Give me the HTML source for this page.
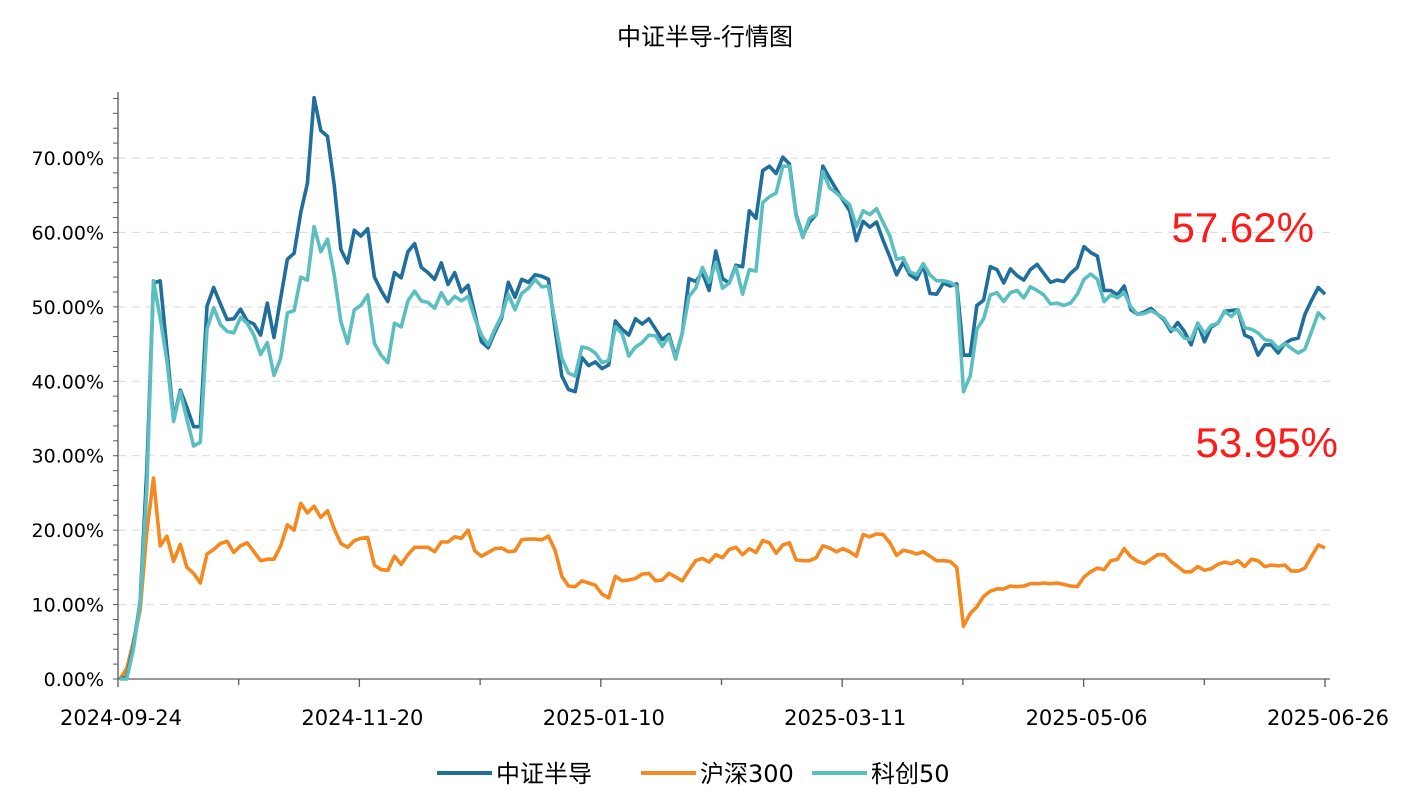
<!DOCTYPE html>
<html><head><meta charset="utf-8"><style>
html,body{margin:0;padding:0;background:#fff;}
svg{display:block;font-family:"Liberation Sans","Noto Sans CJK SC",sans-serif;}
</style></head><body>
<svg id="chart" width="1417" height="797" viewBox="0 0 1417 797">
<text x="705" y="45" text-anchor="middle" font-size="24" fill="#000">中证半导-行情图</text>
<g id="grid"></g>
<g id="yaxis"></g>
<g id="xaxis"></g>
<g id="series"></g>
<text x="1314" y="242" text-anchor="end" font-size="42" fill="#ff1a1a">57.62%</text>
<text x="1338" y="457" text-anchor="end" font-size="42" fill="#ff1a1a">53.95%</text>
<g>
<g><line x1="437" y1="773" x2="492" y2="773" stroke="#1f6e9c" stroke-width="4"/><text x="496" y="782" font-size="24">中证半导</text></g>
<g><line x1="641" y1="773" x2="696" y2="773" stroke="#f5891f" stroke-width="4"/><text x="700" y="782" font-size="24" font-family="DejaVu Sans, Noto Sans CJK SC, sans-serif">沪深300</text></g>
<g><line x1="812" y1="773" x2="867" y2="773" stroke="#5bbfc0" stroke-width="4"/><text x="871" y="782" font-size="24" font-family="DejaVu Sans, Noto Sans CJK SC, sans-serif">科创50</text></g>
</g>
</svg>
<script>
const xLabels = ["2024-09-24","2024-11-20","2025-01-10","2025-03-11","2025-05-06","2025-06-26"];
const yTicks = [0,10,20,30,40,50,60,70];
const semi = [0,0.3,4.5,10.3,28.1,53.2,53.5,44.3,34.9,38.8,36.5,33.9,33.9,50.1,52.6,50.4,48.3,48.4,49.7,48.1,47.7,46.2,50.5,45.9,51.2,56.4,57.2,62.7,66.6,78.1,73.7,72.9,66.4,57.7,55.9,60.3,59.5,60.5,54.0,52.2,50.7,54.6,53.9,57.4,58.5,55.3,
54.6,53.7,55.9,53.0,54.6,52.0,52.9,49.1,45.3,44.5,46.6,48.5,53.3,51.3,53.7,53.3,54.3,54.1,53.7,47.0,40.7,38.9,38.6,43.2,42.1,42.6,41.7,42.2,48.1,47.0,46.2,48.4,47.7,48.4,47.0,45.6,46.3,43.2,46.5,53.8,53.4,54.6,52.2,57.5,
53.8,53.2,55.6,55.4,62.9,61.9,68.3,68.9,67.9,70.1,69.2,62.4,59.5,61.4,62.4,68.9,67.3,65.8,64.3,62.9,58.9,61.5,60.7,61.4,58.9,56.7,54.3,56.0,54.3,53.7,55.6,51.8,51.7,53.2,52.8,53.1,43.5,43.5,50.2,50.9,55.4,55.0,53.2,55.1,54.2,
53.6,55.0,55.7,54.5,53.3,53.6,53.4,54.5,55.3,58.1,57.3,56.8,52.2,52.2,51.6,52.8,49.6,49.0,49.3,49.8,49.0,48.2,46.7,47.9,46.7,44.9,47.8,45.3,47.3,47.8,49.4,49.5,49.6,46.2,45.8,43.5,44.9,44.9,43.8,45.1,45.6,45.8,49.0,50.9,52.6,51.7];
const star50 = [0,0,4.0,10.1,25.5,53.5,48.5,42.8,34.6,38.6,34.9,31.3,31.8,47.0,49.9,47.6,46.7,46.5,48.6,47.8,46.2,43.6,45.2,40.8,43.1,49.2,49.5,54.0,53.6,60.8,57.4,59.1,54.3,48.0,45.1,49.6,50.2,51.6,45.1,43.5,42.5,47.8,47.3,50.8,52.1,50.8,
50.6,49.8,51.9,50.4,51.4,50.8,51.4,48.5,46.2,44.9,47.0,48.8,51.7,49.6,51.8,52.5,53.7,52.7,52.8,48.0,43.1,41.1,40.7,44.6,44.4,43.8,42.5,42.8,47.3,46.4,43.4,44.6,45.2,46.2,46.1,44.7,46.0,43.0,46.5,51.4,52.5,55.3,53.3,56.0,
52.5,53.2,55.4,51.7,55.0,54.8,64.0,64.8,65.3,68.9,68.9,62.2,59.3,61.9,62.4,68.2,66.0,65.3,64.5,63.7,60.8,62.9,62.4,63.2,61.3,59.5,56.4,56.6,54.7,54.3,55.8,54.3,53.5,53.5,53.3,52.7,38.6,40.7,47.0,48.4,51.6,51.9,50.7,51.9,52.2,
51.2,52.7,52.2,51.6,50.4,50.5,50.2,50.5,51.7,53.7,54.4,53.7,50.7,51.6,51.2,51.9,50.0,49.0,49.1,49.5,49.0,48.4,47.0,46.9,45.8,45.6,47.8,46.4,47.5,47.8,49.4,48.7,49.6,47.2,47.0,46.5,45.6,45.4,44.4,45.1,44.4,43.8,44.3,46.7,49.2,48.3];
const csi300 = [0,1.4,5.0,9.2,19.7,27.0,17.9,19.2,15.8,18.1,15.0,14.2,12.9,16.8,17.4,18.2,18.5,17.0,17.9,18.3,17.1,15.9,16.1,16.1,17.9,20.7,20.0,23.6,22.3,23.2,21.7,22.6,20.2,18.2,17.7,18.6,18.9,19.0,15.3,14.7,14.6,16.5,15.4,16.7,17.7,17.7,
17.7,17.1,18.4,18.4,19.1,18.9,20.0,17.2,16.5,17.0,17.5,17.6,17.1,17.2,18.7,18.8,18.8,18.7,19.2,17.3,13.8,12.5,12.4,13.2,12.9,12.6,11.4,10.9,13.8,13.2,13.3,13.5,14.1,14.2,13.2,13.3,14.2,13.7,13.2,14.6,15.9,16.2,15.7,16.7,
16.3,17.4,17.7,16.7,17.5,17.0,18.6,18.3,16.9,18.0,18.3,16.0,15.9,15.9,16.3,17.9,17.6,17.1,17.5,17.1,16.5,19.4,19.1,19.5,19.4,18.3,16.6,17.3,17.1,16.8,17.1,16.5,15.9,15.9,15.8,15.0,7.1,8.8,9.7,11.1,11.8,12.1,12.1,12.5,12.4,
12.5,12.8,12.8,12.9,12.8,12.9,12.7,12.5,12.4,13.7,14.4,14.9,14.7,15.9,16.1,17.5,16.4,15.8,15.5,16.1,16.7,16.7,15.8,15.1,14.4,14.4,15.1,14.6,14.8,15.4,15.7,15.5,15.9,15.1,16.1,15.9,15.1,15.3,15.2,15.3,14.5,14.5,14.9,16.5,18.0,17.6];

const NS="http://www.w3.org/2000/svg";
const X0=118, X1=1325, Y0=679, PER=7.443;
const n = semi.length;
function xScale(i){return 120 + i*(X1-120)/(n-1);}
function yScale(v){return Y0 - v*PER;}
function mk(tag, attrs, parent){const e=document.createElementNS(NS,tag);for(const k in attrs)e.setAttribute(k,attrs[k]);parent.appendChild(e);return e;}

const grid=document.getElementById('grid'), yax=document.getElementById('yaxis'), xax=document.getElementById('xaxis'), ser=document.getElementById('series');
yTicks.forEach(t=>{
  const y=yScale(t);
  if(t>0){const g=mk('line',{x1:X0,x2:1333,y1:y,y2:y,stroke:'#d9d9d9','stroke-width':1,'stroke-dasharray':'8,6'},grid);
    
    }
  const tx=mk('text',{x:104,y:y+7,'text-anchor':'end','font-size':19,fill:'#000','font-family':'DejaVu Sans, sans-serif'},yax);
  tx.textContent=t.toFixed(2)+'%';
  
  
});
for(let v=0; v<=78; v+=2){const y=yScale(v);mk('line',{x1:X0-5,x2:X0,y1:y,y2:y,stroke:'#595959','stroke-width':1},yax);}
mk('line',{x1:X0,x2:X0,y1:92,y2:Y0,stroke:'#595959','stroke-width':1.3},yax);
mk('line',{x1:X0,x2:1330,y1:Y0,y2:Y0,stroke:'#595959','stroke-width':1.3},xax);
xLabels.forEach((lab,k)=>{
  const x=X0+k*(X1-X0)/(xLabels.length-1);
  mk('line',{x1:x,x2:x,y1:Y0,y2:Y0+8,stroke:'#595959','stroke-width':1.3},xax);
  if(k<xLabels.length-1){const xm=x+(X1-X0)/(xLabels.length-1)/2;mk('line',{x1:xm,x2:xm,y1:Y0,y2:Y0+6,stroke:'#595959','stroke-width':1.3},xax);}
  const tx=mk('text',{x:x+3,y:725,'text-anchor':'middle','font-size':21,fill:'#000','font-family':'DejaVu Sans, sans-serif'},xax);
  tx.textContent=lab;
  
  
});
function drawLine(data,color,name){
  const d=data.map((v,i)=>(i?'L':'M')+xScale(i).toFixed(1)+','+yScale(v).toFixed(1)).join(' ');
  const p=mk('path',{d:d,fill:'none',stroke:color,'stroke-width':3.6,'stroke-linejoin':'round'},ser);
  
  
}
drawLine(csi300,'#f5891f','line-csi300');
drawLine(semi,'#1f6e9c','line-semiconductor');
drawLine(star50,'#5bbfc0','line-star50');
</script>
</body></html>
